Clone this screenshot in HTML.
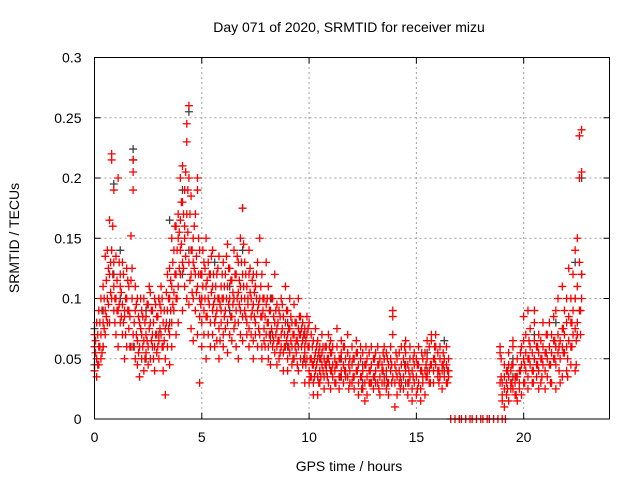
<!DOCTYPE html>
<html><head><meta charset="utf-8"><style>
body{margin:0;background:#fff;}
svg{display:block;font-family:"Liberation Sans",sans-serif;}
</style></head><body>
<svg id="chart" width="640" height="480">
<text x="349" y="32" font-size="14" text-anchor="middle">Day 071 of 2020, SRMTID for receiver mizu</text>
<text x="349" y="471" font-size="14" text-anchor="middle">GPS time / hours</text>
<text transform="translate(19,238) rotate(-90)" font-size="14" text-anchor="middle">SRMTID / TECUs</text>
<g id="grid"></g>
<g id="ticks"></g>
<g id="black"></g>
<g id="red"></g>
<rect x="94.5" y="57.5" width="515" height="361.5" fill="none" stroke="#000" stroke-width="1"/>
</svg>
<script>
const xTicks=[0,5,10,15,20];
const yTicks=[0,0.05,0.1,0.15,0.2,0.25,0.3];
const yTickLabels=["0","0.05","0.1","0.15","0.2","0.25","0.3"];
const redEpochs=[0.0,0.1,0.2,0.3,0.4,0.5,0.6,0.7,0.8,0.9,1.0,1.1,1.2,1.3,1.4,1.5,1.6,1.7,1.8,1.9,2.0,2.1,2.2,2.3,2.4,2.5,2.6,2.7,2.8,2.9,3.0,3.1,3.2,3.3,3.4,3.5,3.6,3.7,3.8,3.9,4.0,4.1,4.2,4.3,4.4,4.5,4.6,4.7,4.8,4.9,5.0,5.1,5.2,5.3,5.4,5.5,5.6,5.7,5.8,5.9,6.0,6.1,6.2,6.3,6.4,6.5,6.6,6.7,6.8,6.9,7.0,7.1,7.2,7.3,7.4,7.5,7.6,7.7,7.8,7.9,8.0,8.1,8.2,8.3,8.4,8.5,8.6,8.7,8.8,8.9,9.0,9.1,9.2,9.3,9.4,9.5,9.6,9.7,9.8,9.9,10.0,10.1,10.2,10.3,10.4,10.5,10.6,10.7,10.8,10.9,11.0,11.1,11.2,11.3,11.4,11.5,11.6,11.7,11.8,11.9,12.0,12.1,12.2,12.3,12.4,12.5,12.6,12.7,12.8,12.9,13.0,13.1,13.2,13.3,13.4,13.5,13.6,13.7,13.8,13.9,14.0,14.1,14.2,14.3,14.4,14.5,14.6,14.7,14.8,14.9,15.0,15.1,15.2,15.3,15.4,15.5,15.6,15.7,15.8,15.9,16.0,16.1,16.2,16.3,16.4,16.5,16.6,16.8,17.0,17.1,17.3,17.5,17.6,17.8,18.0,18.1,18.3,18.4,18.6,18.8,19.0,19.15,18.9,19.0,19.1,19.2,19.3,19.4,19.5,19.6,19.7,19.8,19.9,20.0,20.1,20.2,20.3,20.4,20.5,20.6,20.7,20.8,20.9,21.0,21.1,21.2,21.3,21.4,21.5,21.6,21.7,21.8,21.9,22.0,22.1,22.2,22.3,22.4,22.5,22.6,22.7];
const redValues=[[.04,.06,.07],[.05,.035,.08],[.06,.045,.09],[.07,.05,.1],[.06,.08,.11],[.09,.07,.135],[.1,.08,.14],[.08,.12,.165],[.1,.14,.22,.215],[.11,.09,.19,.13],[.07,.1,.135],[.06,.09,.2],[.08,.11,.12],[.07,.095,.13],[.09,.05,.085],[.06,.1,.125],[.075,.11,.09],[.06,.115,.152],[.07,.205,.215,.19],[.05,.09,.11],[.045,.065,.1],[.06,.08,.035],[.05,.09,.07],[.065,.1,.04],[.07,.085,.055],[.06,.095,.045],[.05,.08,.105],[.07,.09,.06],[.06,.1,.04],[.055,.085,.07],[.065,.1,.05],[.07,.09,.11],[.04,.06,.08],[.05,.075,.02],[.06,.09,.12],[.07,.1,.125,.045],[.08,.11,.15,.06],[.09,.105,.14],[.1,.16,.12,.07],[.11,.15,.17,.08],[.12,.14,.2,.165],[.13,.21,.18,.09],[.15,.19,.16,.11],[.17,.23,.245,.1],[.13,.26,.2,.095],[.12,.14,.185,.075],[.1,.15,.13,.065],[.09,.12,.17],[.11,.19,.2,.07],[.1,.14,.085,.03],[.08,.12,.1,.06],[.09,.13,.07],[.085,.11,.15,.05],[.1,.13,.07],[.08,.12,.06],[.07,.11,.09,.14],[.06,.1,.08],[.09,.12,.065],[.075,.1,.135,.05],[.08,.11,.09],[.07,.1,.13,.06],[.09,.12,.075],[.08,.11,.145,.055],[.1,.125,.07],[.085,.115,.065],[.075,.1,.14],[.09,.12,.06],[.08,.13,.105,.05],[.07,.11,.15,.09],[.085,.12,.175,.065],[.09,.13,.1],[.08,.11,.07],[.075,.12,.14,.06],[.07,.1,.085],[.065,.095,.12,.05],[.08,.11,.07],[.09,.13,.06],[.07,.1,.15],[.06,.085,.12,.05],[.075,.1,.065],[.07,.095,.13],[.06,.08,.11,.05],[.065,.09,.045],[.07,.1,.06],[.055,.08,.12],[.06,.075,.095,.045],[.065,.09,.05],[.07,.1,.06],[.055,.085,.04],[.06,.08,.11],[.05,.07,.09,.04],[.055,.075,.1],[.06,.08,.045],[.05,.07,.03,.095],[.055,.065,.08],[.06,.075,.04,.1],[.05,.07,.085],[.045,.065,.08],[.055,.075,.06,.03],[.05,.07,.085],[.04,.06,.08,.03],[.035,.05,.07],[.03,.045,.065,.02],[.04,.055,.075],[.035,.05,.02,.065],[.04,.06,.03],[.045,.055,.07],[.035,.05,.025],[.04,.06,.045],[.03,.05,.07],[.04,.055,.065,.025],[.035,.045,.06],[.04,.05,.03],[.045,.06,.075],[.035,.05,.025],[.04,.055,.065],[.03,.045,.06],[.04,.05,.035],[.035,.055,.07],[.04,.05,.03],[.03,.045,.06],[.035,.05,.025],[.04,.055,.065],[.03,.045,.02],[.035,.05,.06],[.025,.04,.055],[.03,.045,.015],[.035,.05,.02],[.04,.055,.03],[.03,.045,.06],[.035,.05,.025],[.04,.055,.03],[.03,.045,.06],[.035,.05,.02],[.04,.045,.03],[.03,.05,.06],[.035,.04,.025,.055],[.03,.045,.02],[.04,.05,.06],[.035,.085,.09,.07],[.03,.045,.01],[.035,.05,.02],[.04,.055,.03],[.03,.045,.06],[.035,.05,.025],[.04,.055,.065],[.03,.045,.02],[.035,.05,.06],[.025,.04,.015],[.03,.045,.055],[.035,.05,.02],[.03,.045,.06],[.025,.04,.015],[.03,.05,.035],[.04,.055,.02],[.035,.05,.065],[.04,.06,.03],[.045,.065,.07],[.04,.05,.03],[.045,.06,.07],[.04,.055,.035],[.035,.05,.06],[.04,.045,.025],[.035,.05,.04],[.03,.045,.06],[.04,.05,.035],[0],[0],[0],[0],[0],[0],[0],[0],[0],[0],[0],[0],[0],[0],[0],[0],[.06,.055,.03],[.02,.03,.015],[.025,.035,.045,.01],[.03,.04,.02],[.035,.045,.055,.015],[.03,.04,.025],[.025,.045,.06,.065],[.03,.035,.02],[.035,.05,.015],[.04,.03,.025],[.045,.06,.02],[.05,.065,.03,.085],[.04,.055,.07],[.035,.05,.09,.025],[.045,.06,.075],[.04,.055,.03],[.05,.065,.08,.09],[.045,.06,.035],[.04,.055,.07,.025],[.05,.065,.03],[.045,.06,.08],[.04,.055,.025],[.05,.07,.035],[.045,.06,.08],[.055,.07,.03],[.05,.065,.085],[.045,.06,.09,.025],[.055,.07,.1],[.05,.065,.03],[.06,.075,.11,.035],[.055,.07,.09],[.06,.08,.1,.04],[.065,.085,.125],[.06,.08,.1,.045],[.07,.09,.12],[.075,.1,.14,.04],[.08,.11,.15,.07],[.09,.13,.2,.235],[.1,.12,.24,.205]];
const red2Epochs=[0.05,0.15,0.25,0.35,0.45,0.55,0.65,0.75,0.85,0.95,1.05,1.15,1.25,1.35,1.45,1.55,1.65,1.75,1.85,1.95,2.05,2.15,2.25,2.35,2.45,2.55,2.65,2.75,2.85,2.95,3.05,3.15,3.25,3.35,3.45,3.55,3.65,3.75,3.85,3.95,4.05,4.15,4.25,4.35,4.45,4.55,4.65,4.75,4.85,4.95,5.05,5.15,5.25,5.35,5.45,5.55,5.65,5.75,5.85,5.95,6.05,6.15,6.25,6.35,6.45,6.55,6.65,6.75,6.85,6.95,7.05,7.15,7.25,7.35,7.45,7.55,7.65,7.75,7.85,7.95,8.05,8.15,8.25,8.35,8.45,8.55,8.65,8.75,8.85,8.95,9.05,9.15,9.25,9.35,9.45,9.55,9.65,9.75,9.85,9.95,10.05,10.15,10.25,10.35,10.45,10.55,10.65,10.75,10.85,10.95,11.05,11.25,11.45,11.65,11.85,12.05,12.25,12.45,12.65,12.85,13.05,13.25,13.45,13.65,13.85,14.05,14.25,14.45,14.65,14.85,15.05,15.25,15.45,15.65,15.85,16.05,16.25,16.45,18.95,19.25,19.45,19.65,19.85,20.05,20.25,20.45,20.65,20.85,21.05,21.25,21.45,21.65,21.85,22.05,22.25,22.45,22.65];
const red2Values=[[.055,.065],[.07,.045],[.08,.06],[.09,.055],[.075,.1],[.115,.085],[.095,.125],[.13,.105],[.12,.16],[.1,.08],[.115,.09],[.095,.13],[.105,.085],[.08,.12],[.07,.1],[.09,.115],[.085,.06],[.1,.125],[.08,.06],[.07,.095],[.085,.055],[.075,.1],[.06,.085],[.08,.05],[.095,.065],[.075,.11],[.065,.09],[.08,.05],[.095,.07],[.085,.06],[.075,.095],[.1,.06],[.065,.09],[.08,.105],[.1,.075],[.115,.09],[.13,.095],[.12,.16],[.14,.1],[.155,.125],[.145,.18],[.17,.125],[.135,.205],[.155,.19],[.17,.115],[.14,.105],[.125,.16],[.135,.105],[.15,.12],[.12,.095],[.11,.14],[.1,.125],[.115,.085],[.12,.095],[.105,.135],[.095,.12],[.11,.085],[.1,.125],[.095,.065],[.12,.1],[.11,.085],[.1,.135],[.095,.125],[.115,.085],[.105,.095],[.12,.08],[.1,.135],[.115,.095],[.13,.1],[.11,.145],[.12,.085],[.1,.095],[.105,.125],[.09,.115],[.085,.105],[.1,.12],[.095,.075],[.11,.085],[.09,.1],[.085,.06],[.08,.1],[.09,.07],[.075,.1],[.085,.065],[.07,.09],[.08,.065],[.085,.055],[.075,.095],[.07,.06],[.065,.09],[.075,.06],[.065,.085],[.07,.05],[.06,.08],[.065,.045],[.07,.085],[.06,.075],[.05,.07],[.065,.045],[.06,.075],[.05,.035],[.045,.06],[.05,.035],[.045,.06],[.055,.03],[.05,.035],[.04,.06],[.045,.06],[.05,.035],[.045,.06],[.04,.055],[.045,.03],[.05,.035],[.04,.06],[.045,.025],[.05,.035],[.04,.055],[.035,.025],[.045,.06],[.04,.03],[.035,.05],[.045,.025],[.04,.055],[.03,.05],[.045,.03],[.04,.055],[.035,.025],[.045,.06],[.04,.03],[.035,.05],[.045,.025],[.04,.055],[.035,.045],[.045,.03],[.05,.06],[.04,.03],[.045,.055],[.04,.03],[.035,.05],[.04,.025],[.03,.045],[.035,.02],[.04,.055],[.045,.03],[.05,.065],[.04,.03],[.045,.06],[.05,.035],[.055,.07],[.045,.03],[.05,.065],[.06,.04],[.055,.075],[.05,.035],[.06,.08],[.065,.045],[.07,.09],[.075,.055],[.085,.11],[.09,.06],[.1,.13]];
const blackEpochs=[0.0,0.4,0.9,1.2,1.8,2.4,3.0,3.5,4.1,4.4,5.0,5.6,6.3,6.9,7.5,8.2,9.0,9.8,10.5,11.5,12.5,13.5,14.5,15.5,16.3,19.5,20.5,21.5,22.4,22.7];
const blackValues=[[.045,.075],[.06,.09],[.12,.195],[.1,.14],[.224,.215,.06],[.05,.09],[.07,.1],[.08,.165],[.12,.19],[.255,.14],[.1,.12],[.08,.13],[.09,.11],[.175,.14],[.08,.11],[.07,.1],[.06,.08],[.05,.07],[.04,.05],[.035,.05],[.03,.045],[.035,.05],[.03,.045],[.04,.055],[.04,.065],[.035,.05],[.05,.07],[.06,.08],[.1,.13],[.2,.12]];

const X0=94.5,X1=609.5,Y0=419,Y1=57.5,XMAX=24,YMAX=0.3;
function sx(v){return X0+(X1-X0)*v/XMAX;}
function sy(v){return Y0-(Y0-Y1)*v/YMAX;}
const NS="http://www.w3.org/2000/svg";
function mk(tag,attrs,parent){const e=document.createElementNS(NS,tag);for(const k in attrs)e.setAttribute(k,attrs[k]);parent.appendChild(e);return e;}
const grid=document.getElementById('grid'),ticks=document.getElementById('ticks');
xTicks.forEach(t=>{
  const x=sx(t);
  if(t>0){const g=mk('line',{x1:x,y1:Y0,x2:x,y2:Y1,stroke:'#a0a0a0','stroke-dasharray':'2,3'},grid);
  
  }
  mk('line',{x1:x,y1:Y0,x2:x,y2:Y0-6,stroke:'#000'},ticks);
  mk('line',{x1:x,y1:Y1,x2:x,y2:Y1+6,stroke:'#000'},ticks);
  const l=mk('text',{x:x,y:Y0+23,'font-size':14,'text-anchor':'middle'},ticks);
  l.textContent=String(t);
  
  
});
yTicks.forEach((t,i)=>{
  const y=sy(t);
  if(t>0&&t<YMAX){const g=mk('line',{x1:X0,y1:y,x2:X1,y2:y,stroke:'#a0a0a0','stroke-dasharray':'2,3'},grid);
  
  }
  mk('line',{x1:X0,y1:y,x2:X0+6,y2:y,stroke:'#000'},ticks);
  mk('line',{x1:X1,y1:y,x2:X1-6,y2:y,stroke:'#000'},ticks);
  const l=mk('text',{x:X0-13,y:y+5,'font-size':14,'text-anchor':'end'},ticks);
  l.textContent=yTickLabels[i];
  
  
});
function plot(epochs,values,color,gid,name){
  const g=document.getElementById(gid);
  epochs.forEach((t,i)=>{
    values[i].forEach(v=>{
      const x=sx(t),y=sy(v);
      const p=mk('path',{d:`M${x-4},${y}H${x+4}M${x},${y-4}V${y+4}`,stroke:color,'stroke-width':1.3,fill:'none'},g);
      
      
    });
  });
}
plot(blackEpochs,blackValues,'#404040','black','black-point');
plot(redEpochs,redValues,'#ff0000','red','red-point');
plot(red2Epochs,red2Values,'#ff0000','red','red-point');
</script>
</body></html>
